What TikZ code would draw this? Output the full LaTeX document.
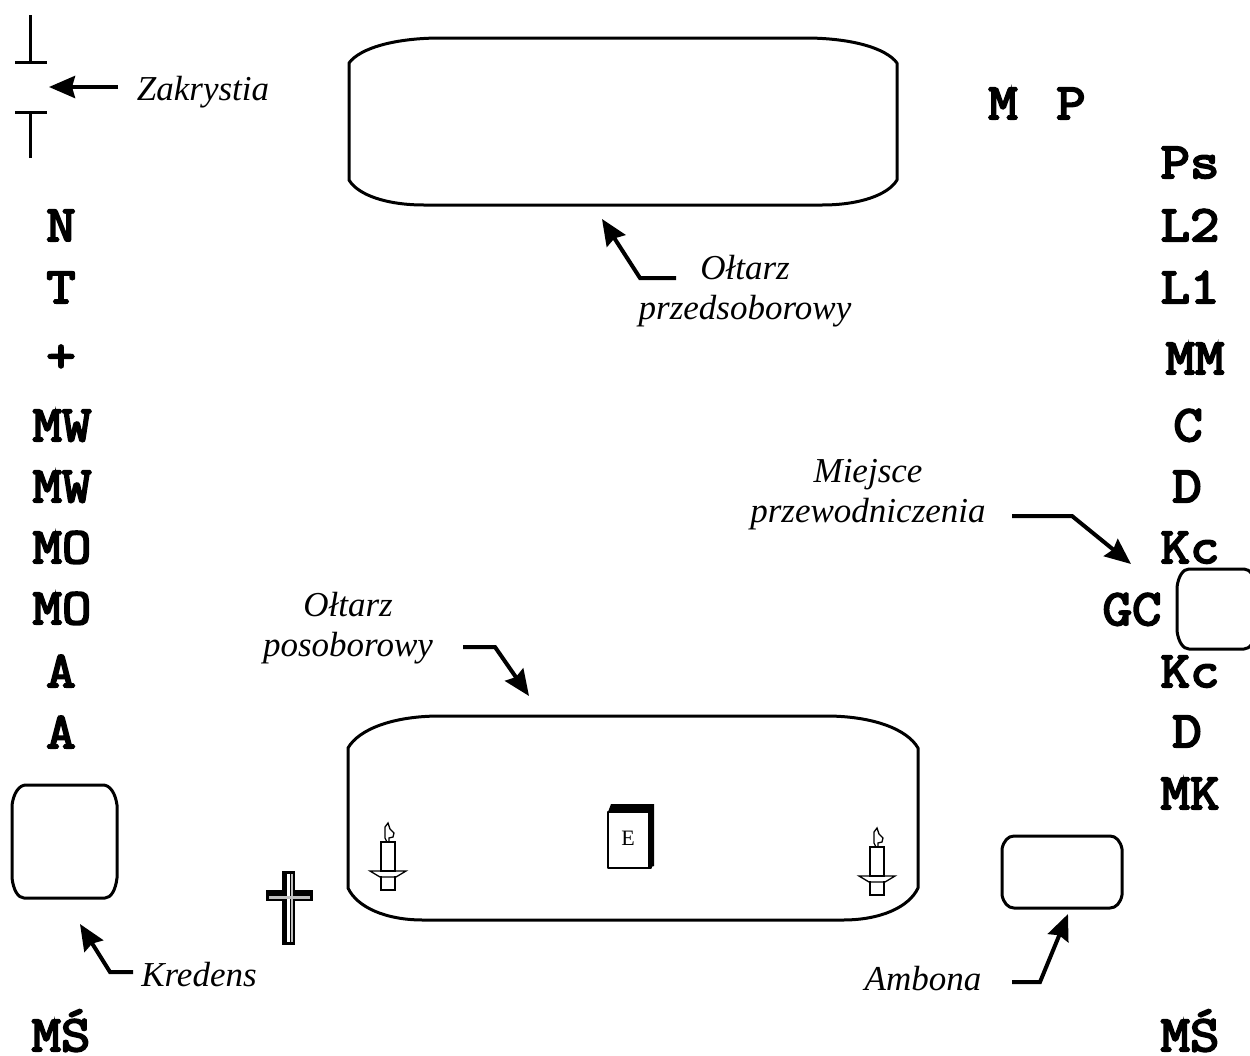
\documentclass[tikz,border=0pt]{standalone}
\usepackage{fontspec}
\setmainfont{Liberation Serif}
\newfontfamily\codefam[FakeBold=4,FakeStretch=1.12]{Latin Modern Mono}
\usetikzlibrary{arrows.meta}
\newcommand{\softbox}[7]{% x1 y1 x2 y2 rx-top ry rx-bottom
  \draw[wall] (#1+#5,#2) -- (#3-#5,#2)
    .. controls (#3-#5*0.5,#2) and (#3-#5*0.12,#2+#6*0.4) .. (#3,#2+#6)
    -- (#3,#4-#6)
    .. controls (#3-#7*0.12,#4-#6*0.4) and (#3-#7*0.5,#4) .. (#3-#7,#4)
    -- (#1+#7,#4)
    .. controls (#1+#7*0.5,#4) and (#1+#7*0.12,#4-#6*0.4) .. (#1,#4-#6)
    -- (#1,#2+#6)
    .. controls (#1+#5*0.12,#2+#6*0.4) and (#1+#5*0.5,#2) .. (#1+#5,#2) -- cycle;}
\newcommand{\candle}[2]{% x of candle centre, y of dish
  \begin{scope}[shift={(#1,#2)},line width=1.3pt]
    \draw (-7,0) rectangle (7,-29);
    \draw (-7,5) -- (-7,19) -- (7,19) -- (7,5);
    \draw (-18,0) -- (18,0) -- (8,6) -- (-8,6) -- cycle;
    \draw (-1,-29) -- (-3,-33) -- (-3,-44) -- (0,-48) -- (2,-42) -- (6,-38) -- (5,-34) -- (1,-33) -- (1,-29);
  \end{scope}}
\tikzset{
  wall/.style={line width=3pt,line join=round},
  code/.style={font=\codefam\fontsize{51}{51}\selectfont,anchor=base,inner sep=0pt},
  note/.style={font=\itshape\fontsize{35}{40}\selectfont,align=center,inner sep=0pt},
  pointer/.style={line width=4pt,line join=miter,-{Stealth[length=26pt,width=22pt,inset=3pt]}},
  door/.style={line width=3pt}
}
\begin{document}
\begin{tikzpicture}[x=1pt,y=-1pt]
\useasboundingbox (0,0) rectangle (1250,1055);
% sacristy door
\coordinate (d1) at (30,15); \coordinate (d2) at (30,62);
\coordinate (d3) at (15,62); \coordinate (d4) at (47,62);
\coordinate (d5) at (30,158); \coordinate (d6) at (30,112);
\coordinate (d7) at (15,112); \coordinate (d8) at (47,112);
\draw[door] (d1) -- (d2) (d3) -- (d4) (d5) -- (d6) (d7) -- (d8);
% furniture
\softbox{349}{38}{897}{205}{92}{25}{75}
\softbox{348}{716}{918}{920}{92}{32}{75}
\softbox{12}{785}{117}{898}{14}{20}{12}
\softbox{1002}{836}{1122}{908}{12}{13}{12}
\softbox{1177}{569}{1256}{649}{12}{18}{12}
% book
\draw[line width=2.5pt,line join=round] (608,812) rectangle (651,868);
\fill (608,812) -- (611,804) -- (654,804) -- (654,866) -- (648,868) -- (648,812) -- cycle;
\node[inner sep=0pt,font=\fontsize{22}{22}\selectfont] (bookE) at (628,838) {E};
% candles
\candle{388}{871}
\candle{877}{876}
% cross
\draw[line width=1.5pt,fill=black] (283,872) -- (294,872) -- (294,891) -- (312,891) -- (312,900) -- (294,900) -- (294,944) -- (283,944) -- (283,900) -- (267,900) -- (267,891) -- (283,891) -- cycle;
\fill[white] (287,874) rectangle (290,942);
\fill[black!25] (269,896) rectangle (310,899);
\fill[black!25] (291,874) rectangle (293,942);
% left column
\node[code] (n) at (61,241) {N};
\node[code] (t) at (61,303) {T};
\node[code] (plus) at (61,372) {+};
\node[code] (mw1) at (62,441) {MW};
\node[code] (mw2) at (62,502) {MW};
\node[code] (mo1) at (62,563) {MO};
\node[code] (mo2) at (62,624) {MO};
\node[code] (a1) at (61,687) {A};
\node[code] (a2) at (61,748) {A};
\node[code] (ms1) at (61,1051) {MŚ};
% right column
\node[code] (m) at (1003,119) {M};
\node[code] (p) at (1071,119) {P};
\node[code] (ps) at (1190,178) {Ps};
\node[code] (l2) at (1190,241) {L2};
\node[code] (l1) at (1190,303) {L1};
\node[code] (mm) at (1195,374) {MM};
\node[code] (c) at (1188,441) {C};
\node[code] (d1n) at (1187,502) {D};
\node[code] (kc1) at (1190,563) {Kc};
\node[code] (gc) at (1132,625) {GC};
\node[code] (kc2) at (1190,687) {Kc};
\node[code] (d2n) at (1187,747) {D};
\node[code] (mk) at (1190,809) {MK};
\node[code] (ms2) at (1190,1051) {MŚ};
% labels
\node[note] (zak) at (203,92) {Zakrystia};
\node[note] (opre) at (745,291) {Ołtarz\\przedsoborowy};
\node[note] (miej) at (868,495) {Miejsce\\przewodniczenia};
\node[note] (opos) at (348,628) {Ołtarz\\posoborowy};
\node[note] (kred) at (199,975) {Kredens};
\node[note] (amb) at (923,979) {Ambona};
% arrows
\coordinate (z0) at (118,87); \coordinate (z1) at (49,87);
\coordinate (a0) at (676,278); \coordinate (a1k) at (640,278); \coordinate (a2k) at (602,219);
\coordinate (b0) at (1012,516); \coordinate (b1) at (1072,516); \coordinate (b2) at (1131,564);
\coordinate (c0) at (463,647); \coordinate (c1) at (495,647); \coordinate (c2) at (529,696);
\coordinate (e0) at (133,972); \coordinate (e1) at (110,972); \coordinate (e2) at (80,924);
\coordinate (f0) at (1012,982); \coordinate (f1) at (1040,982); \coordinate (f2) at (1068,914);
\draw[pointer] (z0) -- (z1);
\draw[pointer] (a0) -- (a1k) -- (a2k);
\draw[pointer] (b0) -- (b1) -- (b2);
\draw[pointer] (c0) -- (c1) -- (c2);
\draw[pointer] (e0) -- (e1) -- (e2);
\draw[pointer] (f0) -- (f1) -- (f2);
\end{tikzpicture}
\end{document}
